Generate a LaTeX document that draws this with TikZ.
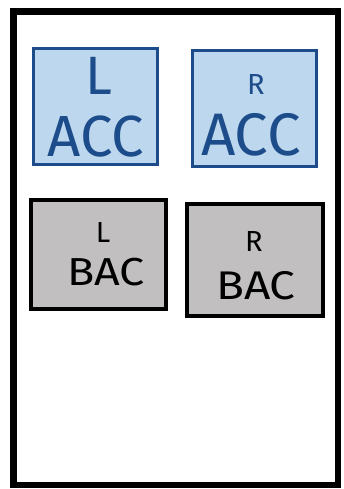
\documentclass[tikz,border=0pt]{standalone}
\usepackage{fontspec}
\setmainfont{Fira Sans}
\definecolor{accfill}{HTML}{BDD7EE}
\definecolor{accline}{HTML}{1D4C8A}
\definecolor{bacfill}{HTML}{C1BFC0}
\begin{document}
\begin{tikzpicture}[x=1pt,y=1pt,
  accbox/.style={draw=accline,fill=accfill,line width=3pt,rectangle,inner sep=0pt},
  bacbox/.style={draw=black,fill=bacfill,line width=4pt,rectangle,inner sep=0pt},
  acctext/.style={text=accline,inner sep=0pt},
  bactext/.style={text=black,inner sep=0pt}]
\useasboundingbox (0,0) rectangle (343,489);
\node[draw=black,line width=6.5pt,minimum width=324.5pt,minimum height=473.5pt,inner sep=0pt] (frame) at (175.75,240.75) {};
% ACC boxes
\node[accbox,minimum width=124pt,minimum height=116pt] (lacc) at (95.5,382.5) {};
\node[accbox,minimum width=124pt,minimum height=116pt] (racc) at (254.5,380.5) {};
% BAC boxes
\node[bacbox,minimum width=135pt,minimum height=109pt] (lbac) at (98.5,234.5) {};
\node[bacbox,minimum width=136pt,minimum height=112pt] (rbac) at (255,229) {};
% labels
\node[acctext,font=\fontsize{54}{54}\selectfont] (laccL) at (99,413) {L};
\node[acctext,font=\fontsize{58}{58}\selectfont] (laccA) at (96,352) {ACC};
\node[acctext,font=\fontsize{29}{29}\selectfont] (raccR) at (256,404) {R};
\node[acctext,font=\fontsize{60}{60}\selectfont] (raccA) at (251,354) {ACC};
\node[bactext,font=\fontsize{29}{29}\selectfont] (lbacL) at (103,256) {L};
\node[bactext,font=\fontsize{39}{39}\selectfont,xscale=1.15] (lbacB) at (106,217) {BAC};
\node[bactext,font=\fontsize{29}{29}\selectfont] (rbacR) at (254,247) {R};
\node[bactext,font=\fontsize{40}{40}\selectfont,xscale=1.15] (rbacB) at (256,203) {BAC};
\end{tikzpicture}
\end{document}
